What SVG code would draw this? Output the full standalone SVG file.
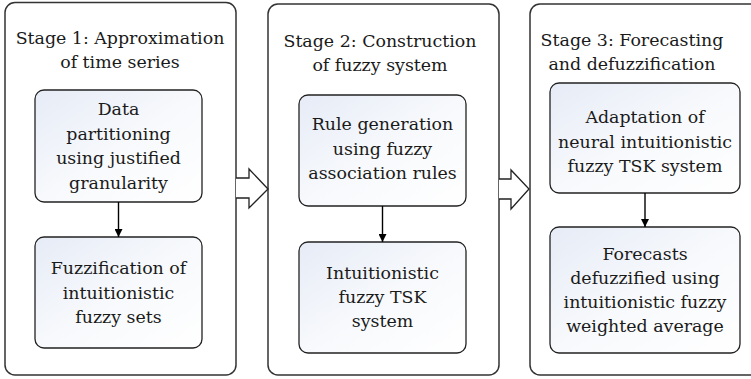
<svg xmlns="http://www.w3.org/2000/svg" width="751" height="379" viewBox="0 0 751 379">
<defs>
<linearGradient id="g" x1="0" y1="0" x2="1" y2="1">
<stop offset="0" stop-color="#e6ebf6"/>
<stop offset="0.5" stop-color="#f7f9fc"/>
<stop offset="1" stop-color="#ffffff"/>
</linearGradient>
<marker id="ah" viewBox="0 0 10 10" refX="10" refY="5" markerWidth="8" markerHeight="8" markerUnits="userSpaceOnUse" orient="auto">
<path d="M0,0 L10,5 L0,10 z" fill="#000"/>
</marker>
</defs>
<style>
.stage{fill:#fff;stroke:#333;stroke-width:1.5}
.box{fill:url(#g);stroke:#222;stroke-width:1.3}
.blk{fill:#fff;stroke:#222;stroke-width:1.3;stroke-linejoin:miter}
.t{font-size:17.4px;fill:#1a1a1a;text-anchor:middle}
.con{stroke:#000;stroke-width:1.4;fill:none}
</style>
<rect width="751" height="379" fill="#fff"/>
<g class="t" font-family="Georgia, 'DejaVu Serif', 'Liberation Serif', 'Times New Roman', serif">
<g id="stage1">
<rect class="stage" x="5" y="2.5" width="231" height="372.5" rx="10"/>
<text x="120" y="44">Stage 1: Approximation</text>
<text x="120" y="68">of time series</text>
</g>
<g id="stage2">
<rect class="stage" x="268" y="4" width="231" height="371" rx="10"/>
<text x="380" y="47">Stage 2: Construction</text>
<text x="380" y="71">of fuzzy system</text>
</g>
<g id="stage3">
<rect class="stage" x="530" y="4" width="230" height="371" rx="10"/>
<text x="632" y="46">Stage 3: Forecasting</text>
<text x="632" y="70">and defuzzification</text>
</g>
<g id="n1a">
<rect class="box" x="35" y="90" width="167" height="112" rx="9"/>
<text x="118.5" y="115">Data</text>
<text x="118.5" y="139.5">partitioning</text>
<text x="118.5" y="164">using justified</text>
<text x="118.5" y="188.5">granularity</text>
</g>
<g id="n1b">
<rect class="box" x="35" y="237" width="167" height="111" rx="9"/>
<text x="118.5" y="274">Fuzzification of</text>
<text x="118.5" y="298.5">intuitionistic</text>
<text x="118.5" y="323">fuzzy sets</text>
</g>
<g id="n2a">
<rect class="box" x="299" y="95" width="167" height="111" rx="9"/>
<text x="382.5" y="130">Rule generation</text>
<text x="382.5" y="154.5">using fuzzy</text>
<text x="382.5" y="179">association rules</text>
</g>
<g id="n2b">
<rect class="box" x="299" y="242" width="167" height="111" rx="9"/>
<text x="382.5" y="279">Intuitionistic</text>
<text x="382.5" y="303">fuzzy TSK</text>
<text x="382.5" y="327">system</text>
</g>
<g id="n3a">
<rect class="box" x="550" y="83" width="190" height="110" rx="9"/>
<text x="645" y="123">Adaptation of</text>
<text x="645" y="147.5">neural intuitionistic</text>
<text x="645" y="172">fuzzy TSK system</text>
</g>
<g id="n3b">
<rect class="box" x="550" y="227" width="190" height="126" rx="9"/>
<text x="645" y="260">Forecasts</text>
<text x="645" y="284">defuzzified using</text>
<text x="645" y="308">intuitionistic fuzzy</text>
<text x="645" y="332">weighted average</text>
</g>
</g>
<g id="connectors">
<line class="con" x1="118.5" y1="202" x2="118.5" y2="237" marker-end="url(#ah)"/>
<line class="con" x1="382.5" y1="206" x2="382.5" y2="242" marker-end="url(#ah)"/>
<line class="con" x1="645" y1="193" x2="645" y2="227" marker-end="url(#ah)"/>
<path class="blk" d="M236,178 L249,178 L249,169 L268,189 L249,208 L249,198 L236,198"/>
<path class="blk" d="M499,179 L511,179 L511,170 L529,189 L511,209 L511,199 L499,199"/>
</g>
</svg>
